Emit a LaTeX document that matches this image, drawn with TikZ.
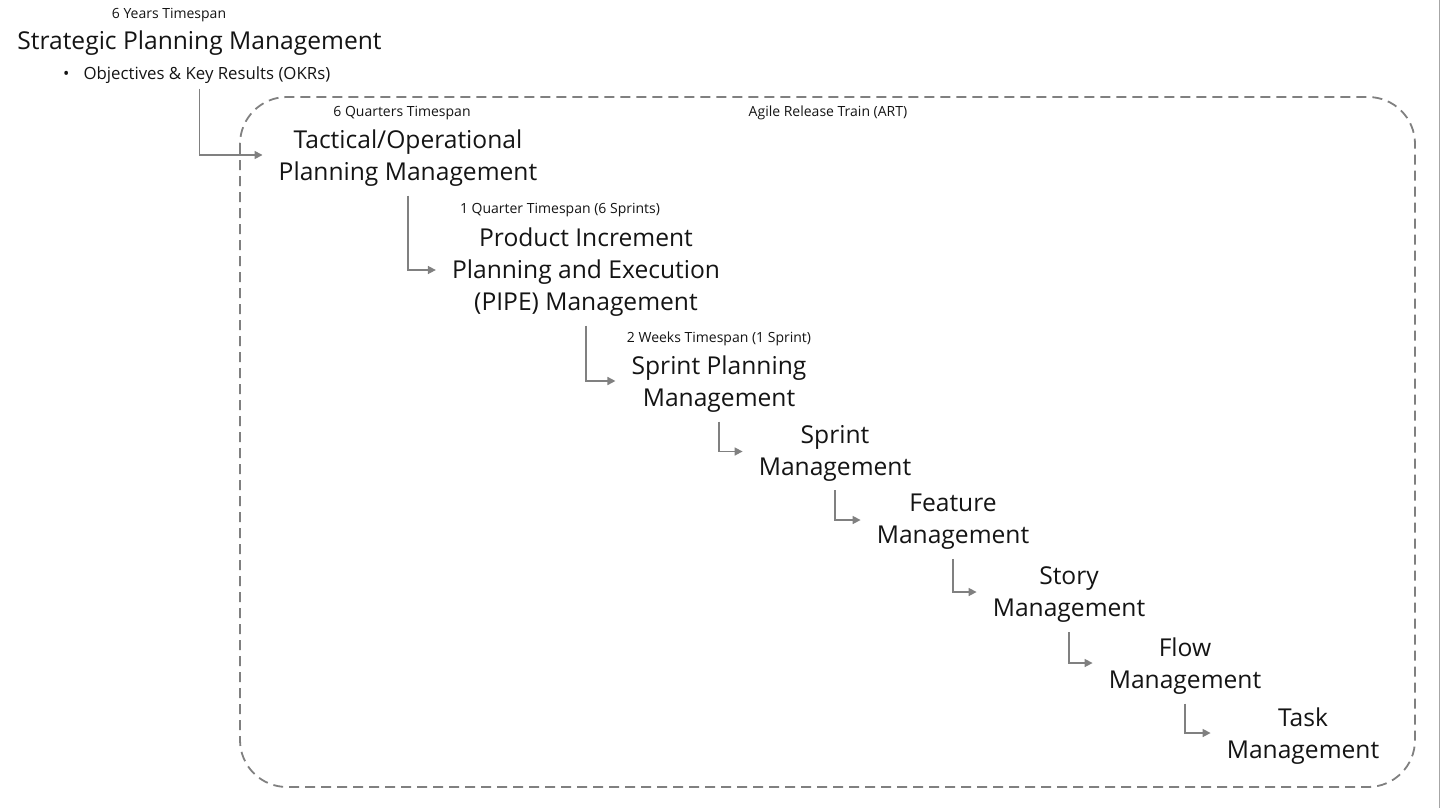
\documentclass[tikz,border=0pt]{standalone}
\usepackage{fontspec}
\setmainfont{Open Sans}
\usetikzlibrary{arrows.meta}
\definecolor{lineg}{RGB}{128,128,128}
\definecolor{txt}{RGB}{20,20,20}
\begin{document}
\begin{tikzpicture}[x=1pt,y=-1pt,
  title/.style={align=center, inner sep=0pt, text=txt, font=\fontsize{24.6}{32}\selectfont},
  small/.style={inner sep=0pt, text=txt, font=\fontsize{14}{16}\selectfont},
  bullet/.style={inner sep=0pt, text=txt, font=\fontsize{16.8}{18}\selectfont},
  conn/.style={draw=lineg, line width=1.6pt, -{Triangle[length=8pt,width=8pt]}, shorten >=16pt, shorten <=9pt},
  artframe/.style={draw=lineg, line width=1.8pt, dash pattern=on 10pt off 6pt, rounded corners=47pt},
  edgeline/.style={draw=lineg!70, line width=1pt}]
\useasboundingbox (0,0) rectangle (1440,808);

\draw[artframe] (240,97) rectangle (1415,787);
\draw[edgeline] (1439.5,0) -- (1439.5,808);

\node[small] (yrs) at (169,15) {6 Years Timespan};
\node[title] (strat) at (199.5,43) {Strategic Planning Management};
\node[bullet, anchor=west] (okr) at (63,75) {\textbullet\hspace{14pt}Objectives \& Key Results (OKRs)};

\node[small] (qtr) at (402,113) {6 Quarters Timespan};
\node[small] (art) at (828,113) {Agile Release Train (ART)};
\node[title] (tact) at (408,158) {Tactical/Operational\\Planning Management};

\node[small] (pisp) at (560,210) {1 Quarter Timespan (6 Sprints)};
\node[title] (pipe) at (586,272) {Product Increment\\Planning and Execution\\(PIPE) Management};

\node[small] (wks) at (719,339) {2 Weeks Timespan (1 Sprint)};
\node[title] (spm) at (719,384) {Sprint Planning\\Management};

\node[title] (sm) at (835,453) {Sprint\\Management};
\node[title] (fm) at (953,522) {Feature\\Management};
\node[title] (stm) at (1069,595) {Story\\Management};
\node[title] (flm) at (1185,666) {Flow\\Management};
\node[title] (tm) at (1303,736) {Task\\Management};

\draw[conn, shorten <=5pt] (strat.south |- okr.south) |- ([yshift=3pt]tact.west);
\draw[conn] (tact.south) |- ([yshift=2pt]pipe.west);
\draw[conn] (pipe.south) |- ([yshift=3pt]spm.west);
\draw[conn] (spm.south) |- ([yshift=1.5pt]sm.west);
\draw[conn] (sm.south) |- ([yshift=2pt]fm.west);
\draw[conn] (fm.south) |- ([yshift=3pt]stm.west);
\draw[conn] (stm.south) |- ([yshift=3pt]flm.west);
\draw[conn] (flm.south) |- ([yshift=3pt]tm.west);
\end{tikzpicture}
\end{document}
